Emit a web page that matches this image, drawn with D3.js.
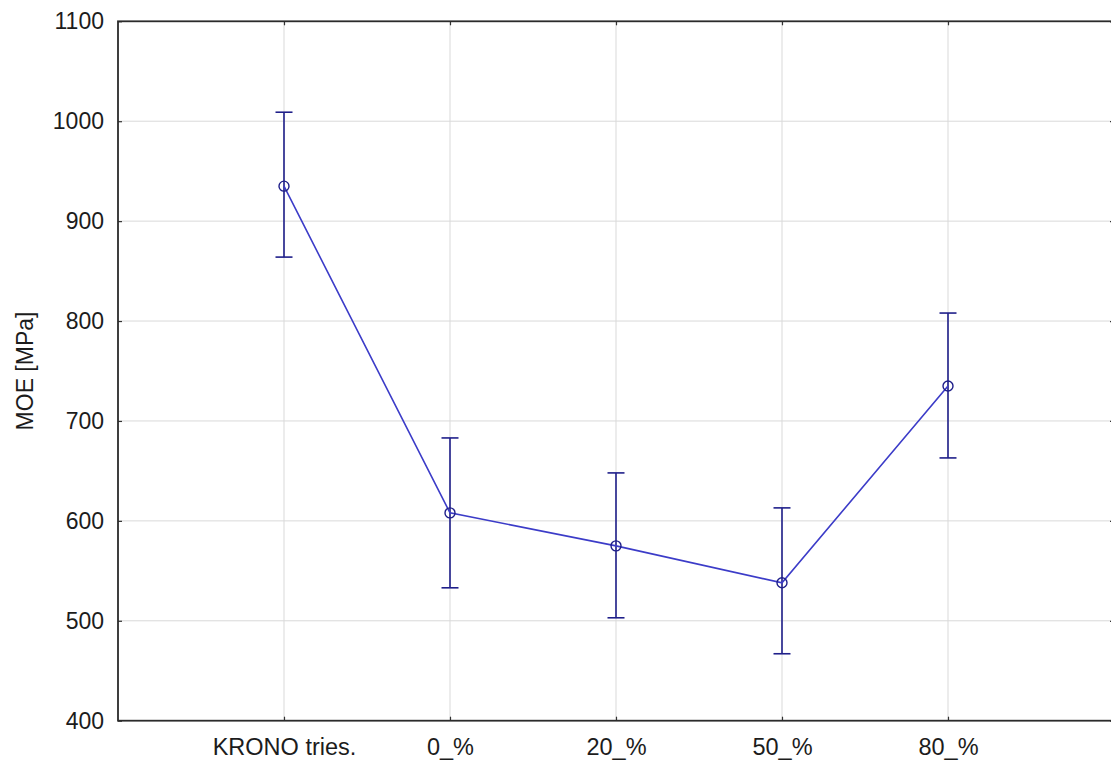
<!DOCTYPE html>
<html>
<head>
<meta charset="utf-8">
<script src="https://cdn.jsdelivr.net/npm/d3@7"></script>
<style>
    body { margin: 0; background: #fff; }
    svg { display: block; font-family: "Liberation Sans", Arial, sans-serif; }
</style>
</head>
<body>
<div id="chart"></div>
<script>
// data
var categories = ["KRONO tries.", "0_%", "20_%", "50_%", "80_%"];
var means = [935, 608, 575, 538, 735];
var upper = [1009, 683, 648, 613, 808];
var lower = [864, 533, 503, 467, 663];
var yTicks = [400, 500, 600, 700, 800, 900, 1000, 1100];

var W = 1111, H = 760;
var plotL = 118, plotR = 1114, plotT = 21.3, plotB = 720.7;

var svg = d3.select("#chart")
    .append("svg")
    .attr("width", W)
    .attr("height", H);

var x = d3.scalePoint()
    .domain(categories)
    .range([plotL, plotR])
    .padding(1);

var y = d3.scaleLinear()
    .domain([400, 1100])
    .range([plotB, plotT]);

// grid
svg.append("g")
    .selectAll("line")
    .data(yTicks.slice(1, -1))
    .enter()
    .append("line")
    .attr("x1", plotL).attr("x2", plotR)
    .attr("y1", function (d) { return y(d); })
    .attr("y2", function (d) { return y(d); })
    .style("stroke", "#d9d9d9")
    .style("stroke-width", 1);

svg.append("g")
    .selectAll("line")
    .data(categories)
    .enter()
    .append("line")
    .attr("x1", function (d) { return x(d); })
    .attr("x2", function (d) { return x(d); })
    .attr("y1", plotT).attr("y2", plotB)
    .style("stroke", "#d9d9d9")
    .style("stroke-width", 1);

// axes (ticks point inward)
var yAxis = d3.axisLeft(y).tickValues(yTicks).tickFormat(d3.format("d"))
    .tickSizeInner(-4).tickSizeOuter(0).tickPadding(14);
var xAxis = d3.axisBottom(x).tickSizeInner(-4).tickSizeOuter(0).tickPadding(11);

var gy = svg.append("g").attr("transform", "translate(" + plotL + ",0)").call(yAxis);
var gx = svg.append("g").attr("transform", "translate(0," + plotB + ")").call(xAxis);
svg.append("g").attr("transform", "translate(" + plotR + ",0)")
    .call(d3.axisRight(y).tickValues(yTicks).tickSizeInner(-4).tickSizeOuter(0).tickFormat(""));
svg.append("g").attr("transform", "translate(0," + plotT + ")")
    .call(d3.axisTop(x).tickSizeInner(-4).tickSizeOuter(0).tickFormat(""));

svg.selectAll(".domain").remove();
svg.selectAll(".tick line").style("stroke", "#333").style("stroke-width", 1.2);
gy.selectAll("text").style("font-size", "23px").style("fill", "#1c1c1c");
gx.selectAll("text").style("font-size", "23.5px").style("fill", "#1c1c1c").attr("dy", "1em");

// frame
svg.append("rect")
    .attr("x", plotL).attr("y", plotT)
    .attr("width", plotR - plotL).attr("height", plotB - plotT)
    .style("fill", "none")
    .style("stroke", "#2b2b2b")
    .style("stroke-width", 1.8);

// y axis title
svg.append("text")
    .attr("transform", "translate(33," + ((plotT + plotB) / 2) + ") rotate(-90)")
    .attr("text-anchor", "middle")
    .text("MOE [MPa]")
    .style("font-size", "23px")
    .style("fill", "#1c1c1c");

// error bars
var capW = 8.5;
var eb = svg.append("g")
    .selectAll("g")
    .data(categories)
    .enter()
    .append("g")
    .style("stroke", "#1f1f8a")
    .style("stroke-width", 1.6);

eb.append("line")
    .attr("x1", function (d) { return x(d); })
    .attr("x2", function (d) { return x(d); })
    .attr("y1", function (d, i) { return y(upper[i]); })
    .attr("y2", function (d, i) { return y(lower[i]); });
eb.append("line")
    .attr("x1", function (d) { return x(d) - capW; })
    .attr("x2", function (d) { return x(d) + capW; })
    .attr("y1", function (d, i) { return y(upper[i]); })
    .attr("y2", function (d, i) { return y(upper[i]); });
eb.append("line")
    .attr("x1", function (d) { return x(d) - capW; })
    .attr("x2", function (d) { return x(d) + capW; })
    .attr("y1", function (d, i) { return y(lower[i]); })
    .attr("y2", function (d, i) { return y(lower[i]); });

// mean line
var line = d3.line()
    .x(function (d, i) { return x(categories[i]); })
    .y(function (d) { return y(d); });

svg.append("path")
    .datum(means)
    .attr("d", line)
    .style("fill", "none")
    .style("stroke", "#3c3cc8")
    .style("stroke-width", 1.6);

svg.append("g")
    .selectAll("circle")
    .data(means)
    .enter()
    .append("circle")
    .attr("cx", function (d, i) { return x(categories[i]); })
    .attr("cy", function (d) { return y(d); })
    .attr("r", 5)
    .style("fill", "none")
    .style("stroke", "#1f1f8a")
    .style("stroke-width", 1.4);
</script>
</body>
</html>
